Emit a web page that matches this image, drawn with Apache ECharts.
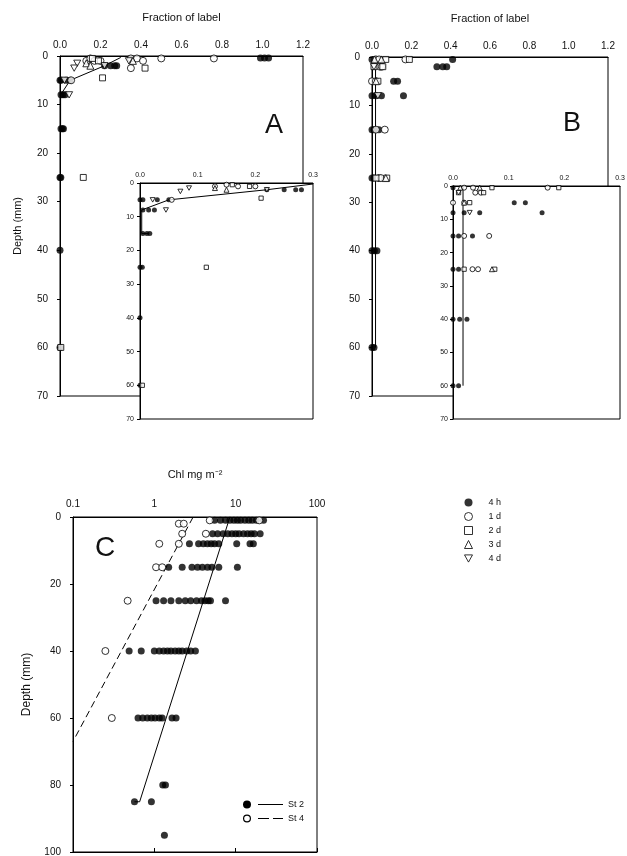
<!DOCTYPE html>
<html>
<head>
<meta charset="utf-8">
<script src="https://cdn.jsdelivr.net/npm/echarts@6/dist/echarts.min.js"></script>
<style>
  html, body { margin: 0; padding: 0; background: #fff; }
  #main { width: 627px; height: 856px; }
</style>
</head>
<body>
<div id="main"></div>
<script>
// panel A, [fraction of label, depth mm]
const a4h = [[0.99,0.4],[1.01,0.4],[1.03,0.4],[0.22,2],[0.25,2],[0.27,2],[0.28,2],
  [0.0,5],[0.005,5],[0.03,5],[0.05,5],[0.005,8],[0.015,8],[0.025,8],
  [0.005,15],[0.012,15],[0.017,15],[0.0,25],[0.004,25],[0.0,40],[0.0,60]];
const a1d = [[0.13,1],[0.15,0.5],[0.17,1],[0.2,1],[0.35,0.5],[0.38,0.5],[0.41,1],
  [0.35,2.5],[0.5,0.5],[0.76,0.5],[0.055,5]];
const a2d = [[0.16,0.5],[0.19,1],[0.42,2.5],[0.21,4.5],[0.115,25],[0.004,60]];
const a3d = [[0.13,1.5],[0.15,2],[0.36,1]];
const a4d = [[0.085,1.5],[0.07,2.5],[0.22,2],[0.022,5],[0.045,8],[0.34,1]];
const aMean = [[0.3,0.3],[0.22,2],[0.05,5],[0.003,8],[0.003,15],[0.015,15]];

// panel B
const b4h = [[0.41,0.5],[0.0,0.5],[0.33,2],[0.36,2],[0.38,2],[0.11,5],[0.13,5],
  [0.0,8],[0.02,8],[0.048,8],[0.16,8],[0.0,15],[0.01,15],[0.035,15],
  [0.0,25],[0.01,25],[0.0,40],[0.012,40],[0.025,40],[0.0,60],[0.01,60]];
const b1d = [[0.02,0.5],[0.036,0.5],[0.17,0.5],[0.04,2],[0.05,2],[0.0,5],[0.02,5],
  [0.02,15],[0.065,15],[0.035,25],[0.045,25]];
const b2d = [[0.07,0.5],[0.19,0.5],[0.01,2],[0.055,2],[0.03,5],[0.02,25],[0.075,25]];
const b3d = [[0.013,0.5],[0.048,0.5],[0.02,5],[0.07,25]];
const b4d = [[0.01,2],[0.03,8]];
const bMean = [[0.018,0.3],[0.018,60]];

// panel C, Chl mg m-2 by depth
const cDepths = [1, 2, 5, 8, 15, 25, 40, 60, 80, 85, 95];
const cSt2 = [
  [5.5,6.5,7.5,8.5,9.5,10.5,11.5,13,14.5,16,18,22],
  [],
  [5.2,6,7,8,9,10,11,12.5,14,15.5,17,20],
  [2.7,3.5,4,4.5,5,5.5,6.2,10.3,15,16.5],
  [1.5,2.2,2.9,3.4,3.9,4.5,5.1,6.2,10.5],
  [1.05,1.3,1.6,2.0,2.4,2.8,3.3,3.8,4.2,4.6,4.9,7.5],
  [0.49,0.69,1.0,1.15,1.3,1.45,1.6,1.8,2.0,2.2,2.5,2.8,3.2],
  [0.63,0.72,0.82,0.92,1.02,1.15,1.25,1.65,1.85],
  [1.27,1.37],
  [0.57,0.92],
  [1.33]
];
const cSt4 = [[4.8,19.5],[2.0,2.3],[2.2,4.3],[1.15,2.0],[1.05,1.25],[0.47],[0.25],[0.3],[],[],[]];
const cFit2 = [[8.5,0],[0.66,85],[0.57,85]];
const cFit4 = [[3.0,0],[0.1,67]];

const FONT = '"Liberation Sans", Arial, sans-serif';
const INK = '#111';

const SYM = {
  '4 h': { symbol: 'circle', filled: true, scale: 1 },
  '1 d': { symbol: 'circle', scale: 1 },
  '2 d': { symbol: 'rect', scale: 0.85 },
  '3 d': { symbol: 'triangle', scale: 1 },
  '4 d': { symbol: 'path://M0,0 L10,0 L5,9 Z', scale: 1 }
};

const pairs = (rows) =>
  rows.flatMap((vals, i) => vals.map((v) => [v, cDepths[i]]));

const dots = (name, data, axis, size, zlevel) => ({
  name,
  type: 'scatter',
  data,
  xAxisIndex: axis,
  yAxisIndex: axis,
  zlevel,
  z: 3,
  symbol: SYM[name].symbol,
  symbolKeepAspect: true,
  symbolSize: size * SYM[name].scale,
  itemStyle: SYM[name].filled
    ? { color: '#000' }
    : { color: '#fff', borderColor: '#000', borderWidth: 1 },
  emphasis: { disabled: true }
});

const meanLine = (name, data, axis, zlevel) => ({
  name,
  type: 'line',
  data,
  xAxisIndex: axis,
  yAxisIndex: axis,
  zlevel,
  z: 2,
  showSymbol: false,
  symbol: 'none',
  lineStyle: { color: '#000', width: 1 },
  emphasis: { disabled: true }
});

const panel = (sets, mean, axis, size, zlevel) => [
  meanLine('mean' + axis, mean, axis, zlevel),
  dots('4 h', sets[0], axis, size, zlevel),
  dots('1 d', sets[1], axis, size, zlevel),
  dots('2 d', sets[2], axis, size, zlevel),
  dots('3 d', sets[3], axis, size, zlevel),
  dots('4 d', sets[4], axis, size, zlevel)
];

const line = { lineStyle: { color: '#000', width: 1 } };

const fracAxis = (grid, max, interval, fs, margin, zlevel, name) => ({
  type: 'value',
  gridIndex: grid,
  position: 'top',
  min: 0,
  max,
  interval,
  zlevel,
  name,
  nameLocation: 'middle',
  nameGap: 33,
  nameTextStyle: { fontFamily: FONT, fontSize: 11, color: INK },
  axisLine: line,
  axisTick: { show: false },
  splitLine: { show: false },
  axisLabel: { fontFamily: FONT, fontSize: fs, color: INK, margin,
    formatter: (v) => v.toFixed(1) }
});

const depthAxis = (grid, fs, margin, zlevel, name) => ({
  type: 'value',
  gridIndex: grid,
  inverse: true,
  min: 0,
  max: 70,
  interval: 10,
  zlevel,
  name,
  nameLocation: 'middle',
  nameRotate: 90,
  nameGap: 37,
  nameTextStyle: { fontFamily: FONT, fontSize: 11, color: INK },
  axisLine: line,
  axisTick: { show: true, length: 3, lineStyle: { color: '#000' } },
  splitLine: { show: false },
  axisLabel: { fontFamily: FONT, fontSize: fs, color: INK, margin }
});

const box = (left, top, width, height, zlevel, bg) => ({
  left, top, width, height, zlevel,
  show: true,
  borderColor: '#000',
  borderWidth: 1,
  backgroundColor: bg,
  containLabel: false,
  outerBoundsMode: 'none'
});

const ringPath = 'path://M0,4 A4,4 0 1,1 8,4 A4,4 0 1,1 0,4 Z M1.2,4 A2.8,2.8 0 1,0 6.8,4 A2.8,2.8 0 1,0 1.2,4 Z M15,3.5 L26,3.5 L26,4.5 L15,4.5 Z M30,3.5 L40,3.5 L40,4.5 L30,4.5 Z';
const dotPath = 'path://M0,4 A4,4 0 1,1 8,4 A4,4 0 1,1 0,4 Z M15,3.5 L40,3.5 L40,4.5 L15,4.5 Z';

const option = {
  animation: false,
  backgroundColor: '#fff',
  textStyle: { fontFamily: FONT },
  title: [
    { text: 'A', left: 260, top: 107, textStyle: { fontFamily: FONT, fontSize: 27, fontWeight: 'normal', color: INK } },
    { text: 'B', left: 558, top: 105, textStyle: { fontFamily: FONT, fontSize: 27, fontWeight: 'normal', color: INK } },
    { text: 'C', left: 90, top: 529, textStyle: { fontFamily: FONT, fontSize: 28, fontWeight: 'normal', color: INK } }
  ],
  legend: [
    {
      orient: 'vertical',
      left: 459,
      top: 493,
      itemWidth: 8,
      itemHeight: 8,
      itemGap: 5,
      symbolKeepAspect: true,
      selectedMode: false,
      itemStyle: { borderWidth: 1 },
      data: ['4 h', '1 d', '2 d', '3 d', '4 d'],
      textStyle: { fontFamily: FONT, fontSize: 9, color: INK, padding: [0, 0, 0, 11] }
    },
    {
      orient: 'vertical',
      left: 238,
      top: 795,
      itemWidth: 40,
      itemHeight: 8,
      itemGap: 5,
      selectedMode: false,
      data: [
        { name: 'St 2', icon: dotPath, itemStyle: { color: '#000', borderWidth: 0 } },
        { name: 'St 4', icon: ringPath, itemStyle: { color: '#000', borderWidth: 0 } }
      ],
      textStyle: { fontFamily: FONT, fontSize: 9, color: INK }
    }
  ],
  grid: [
    box(60, 56, 243, 340, 0, 'transparent'),
    box(140, 183, 173, 236, 1, '#fff'),
    box(372, 57, 236, 339, 0, 'transparent'),
    box(453, 186, 167, 233, 1, '#fff'),
    box(73, 517, 244, 335, 0, 'transparent')
  ],
  xAxis: [
    fracAxis(0, 1.2, 0.2, 10, 6, 0, 'Fraction of label'),
    fracAxis(1, 0.3, 0.1, 7, 4, 1),
    fracAxis(2, 1.2, 0.2, 10, 6, 0, 'Fraction of label'),
    fracAxis(3, 0.3, 0.1, 7, 4, 1),
    {
      type: 'log',
      logBase: 10,
      gridIndex: 4,
      position: 'top',
      min: 0.1,
      max: 100,
      name: 'Chl mg m⁻²',
      nameLocation: 'middle',
      nameGap: 37,
      nameTextStyle: { fontFamily: FONT, fontSize: 11, color: INK },
      axisLine: line,
      axisTick: { show: false },
      splitLine: { show: false },
      minorSplitLine: { show: false },
      axisLabel: { fontFamily: FONT, fontSize: 10, color: INK, margin: 8 }
    },
    {
      type: 'log',
      logBase: 10,
      gridIndex: 4,
      position: 'bottom',
      min: 0.1,
      max: 100,
      axisLine: line,
      axisTick: { show: true, inside: true, length: 4, lineStyle: { color: '#000' } },
      splitLine: { show: false },
      axisLabel: { show: false }
    }
  ],
  yAxis: [
    depthAxis(0, 10, 12, 0, 'Depth (mm)'),
    depthAxis(1, 7, 6, 1),
    depthAxis(2, 10, 12, 0),
    depthAxis(3, 7, 5, 1),
    {
      type: 'value',
      gridIndex: 4,
      inverse: true,
      min: 0,
      max: 100,
      interval: 20,
      name: 'Depth (mm)',
      nameLocation: 'middle',
      nameRotate: 90,
      nameGap: 40,
      nameTextStyle: { fontFamily: FONT, fontSize: 12, color: INK },
      axisLine: line,
      axisTick: { show: true, length: 3, lineStyle: { color: '#000' } },
      splitLine: { show: false },
      axisLabel: { fontFamily: FONT, fontSize: 10, color: INK, margin: 12 }
    }
  ],
  series: [
    ...panel([a4h, a1d, a2d, a3d, a4d], aMean, 0, 7, 0),
    ...panel([a4h, a1d, a2d, a3d, a4d], aMean, 1, 5, 1),
    ...panel([b4h, b1d, b2d, b3d, b4d], bMean, 2, 7, 0),
    ...panel([b4h, b1d, b2d, b3d, b4d], bMean, 3, 5, 1),
    {
      name: 'St 2', type: 'line', data: cFit2, xAxisIndex: 4, yAxisIndex: 4,
      showSymbol: false, symbol: 'none', z: 2,
      lineStyle: { color: '#000', width: 1 }
    },
    {
      name: 'St 4', type: 'line', data: cFit4, xAxisIndex: 4, yAxisIndex: 4,
      showSymbol: false, symbol: 'none', z: 2,
      lineStyle: { color: '#000', width: 1, type: [7, 4] }
    },
    {
      name: 'St 2', type: 'scatter', data: pairs(cSt2), xAxisIndex: 4, yAxisIndex: 4,
      symbol: 'circle', symbolSize: 7, z: 3, itemStyle: { color: '#000' }
    },
    {
      name: 'St 4', type: 'scatter', data: pairs(cSt4), xAxisIndex: 4, yAxisIndex: 4,
      symbol: 'circle', symbolSize: 7, z: 4,
      itemStyle: { color: '#fff', borderColor: '#000', borderWidth: 1 }
    }
  ]
};

const myChart = echarts.init(document.getElementById('main'));
myChart.setOption(option);
</script>
</body>
</html>
